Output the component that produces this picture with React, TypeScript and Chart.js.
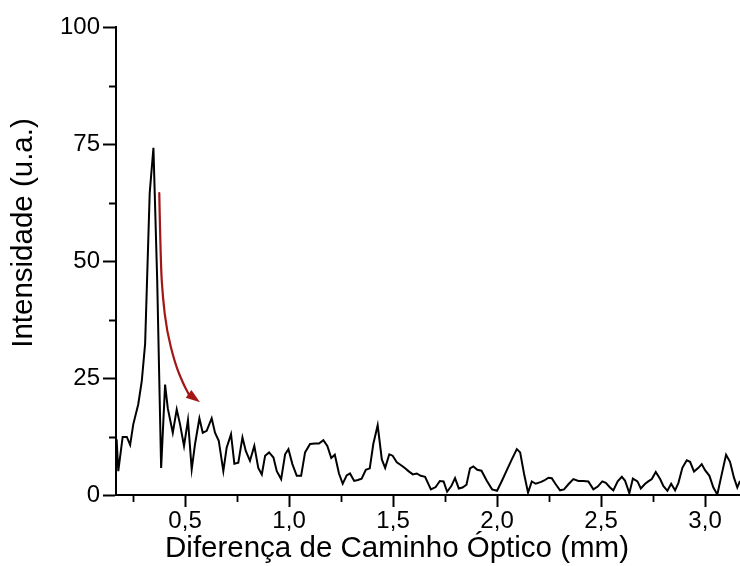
import React, { useEffect, useRef } from "react";
import { Chart, registerables } from "chart.js";

Chart.register(...registerables);

// Optical path difference (mm)
const OPD_MM = [
  0.171, 0.179, 0.200, 0.220, 0.236, 0.251, 0.275, 0.292, 0.308, 0.330,
  0.348, 0.366, 0.385, 0.404, 0.417, 0.441, 0.460, 0.476, 0.495, 0.514,
  0.532, 0.548, 0.569, 0.585, 0.604, 0.628, 0.644, 0.662, 0.684, 0.700,
  0.721, 0.737, 0.756, 0.776, 0.792, 0.812, 0.833, 0.852, 0.869, 0.885,
  0.904, 0.925, 0.941, 0.962, 0.981, 0.997, 1.016, 1.037, 1.058, 1.077,
  1.101, 1.125, 1.144, 1.165, 1.184, 1.203, 1.220, 1.240, 1.258, 1.277,
  1.293, 1.313, 1.331, 1.349, 1.369, 1.388, 1.405, 1.426, 1.446, 1.462,
  1.482, 1.498, 1.518, 1.537, 1.558, 1.574, 1.595, 1.614, 1.633, 1.654,
  1.682, 1.705, 1.725, 1.743, 1.760, 1.780, 1.798, 1.816, 1.834, 1.853,
  1.870, 1.886, 1.905, 1.925, 1.950, 1.976, 2.000, 2.023, 2.047, 2.071,
  2.095, 2.111, 2.130, 2.149, 2.167, 2.186, 2.212, 2.227, 2.247, 2.263,
  2.282, 2.303, 2.322, 2.343, 2.367, 2.391, 2.415, 2.439, 2.463, 2.484,
  2.506, 2.523, 2.543, 2.559, 2.580, 2.600, 2.615, 2.636, 2.653, 2.675,
  2.691, 2.712, 2.727, 2.744, 2.763, 2.784, 2.800, 2.819, 2.837, 2.856,
  2.872, 2.891, 2.912, 2.928, 2.947, 2.968, 2.984, 3.000, 3.021, 3.040,
  3.059, 3.080, 3.101, 3.120, 3.139, 3.155, 3.168,
];

// Intensity (arbitrary units)
const INTENSITY = [
  11.9, 5.1, 12.4, 12.4, 10.7, 15.1, 19.4, 24.4, 32.3, 64.5,
  74.2, 46.0, 5.8, 23.6, 18.5, 13.3, 18.3, 15.1, 10.5, 16.0,
  5.5, 10.9, 16.4, 13.3, 13.7, 16.4, 13.3, 11.6, 5.1, 10.1,
  13.0, 6.7, 6.9, 12.3, 9.4, 7.3, 10.5, 5.8, 4.4, 8.4,
  9.1, 8.0, 5.1, 3.4, 8.7, 9.8, 6.6, 4.1, 4.1, 9.1,
  10.9, 11.0, 11.0, 11.7, 10.5, 7.9, 8.6, 4.6, 2.4, 4.2,
  4.6, 3.0, 3.2, 3.5, 5.4, 5.7, 10.9, 14.9, 7.6, 5.8,
  8.7, 8.4, 7.0, 6.4, 5.7, 5.1, 4.4, 4.6, 4.1, 3.9,
  1.2, 1.7, 3.0, 2.9, 0.7, 1.9, 3.6, 1.4, 1.6, 2.2,
  5.7, 6.1, 5.4, 5.2, 3.1, 1.2, 0.9, 3.0, 5.3, 7.6,
  9.8, 9.1, 4.5, 0.5, 2.9, 2.4, 2.8, 3.1, 3.7, 3.6,
  2.3, 1.0, 1.2, 2.3, 3.4, 3.0, 3.0, 2.9, 1.2, 1.8,
  2.9, 2.6, 1.6, 1.0, 2.9, 3.9, 3.1, 0.4, 3.5, 2.9,
  1.4, 2.4, 2.9, 3.4, 4.9, 3.4, 1.9, 0.9, 2.4, 1.0,
  2.6, 5.8, 7.4, 7.1, 5.0, 5.8, 6.6, 5.3, 4.1, 1.6,
  0.1, 4.4, 8.6, 7.1, 3.7, 1.6, 3.0,
];

const X_MIN = 0.168;
const X_MAX = 3.168;
const Y_MIN = 0;
const Y_MAX = 100;

const X_TICKS = [0.5, 1.0, 1.5, 2.0, 2.5, 3.0];
const X_MINOR_TICKS = [0.25, 0.75, 1.25, 1.75, 2.25, 2.75];
const Y_TICKS = [0, 25, 50, 75, 100];
const Y_MINOR_TICKS = [12.5, 37.5, 62.5, 87.5];

const X_TITLE = "Diferença de Caminho Óptico (mm)";
const Y_TITLE = "Intensidade (u.a.)";

// Curved arrow annotation (data coordinates): shaft path, then tip
const ARROW_X = [0.376, 0.383, 0.393, 0.412, 0.452, 0.492, 0.517];
const ARROW_Y = [64.5, 49.4, 42.2, 35.1, 28.0, 23.7, 21.6];
const ARROW_TIP_X = 0.572;
const ARROW_TIP_Y = 19.8;

const FONT = '"Liberation Sans", Arial, sans-serif';
const ARROW_COLOR = "#a31616";

const extrasPlugin = {
  id: "extras",
  afterDatasetsDraw(chart: any) {
    const { ctx, scales } = chart;
    const xs = scales.x;
    const ys = scales.y;
    const pts = ARROW_X.map((x, i) => [xs.getPixelForValue(x), ys.getPixelForValue(ARROW_Y[i])]);
    const tip = [xs.getPixelForValue(ARROW_TIP_X), ys.getPixelForValue(ARROW_TIP_Y)];
    ctx.save();
    ctx.strokeStyle = ARROW_COLOR;
    ctx.fillStyle = ARROW_COLOR;
    ctx.lineWidth = 2.2;
    ctx.lineCap = "round";
    ctx.beginPath();
    ctx.moveTo(pts[0][0], pts[0][1]);
    for (let i = 1; i < pts.length - 1; i++) {
      const mx = (pts[i][0] + pts[i + 1][0]) / 2;
      const my = (pts[i][1] + pts[i + 1][1]) / 2;
      ctx.quadraticCurveTo(pts[i][0], pts[i][1], mx, my);
    }
    const last = pts[pts.length - 1];
    ctx.lineTo(last[0], last[1]);
    ctx.stroke();
    // arrow head
    const dx = tip[0] - last[0];
    const dy = tip[1] - last[1];
    const len = Math.hypot(dx, dy) || 1;
    const nx = -dy / len;
    const ny = dx / len;
    const hw = 4.8;
    ctx.beginPath();
    ctx.moveTo(tip[0], tip[1]);
    ctx.lineTo(last[0] + nx * hw, last[1] + ny * hw);
    ctx.lineTo(last[0] - nx * hw, last[1] - ny * hw);
    ctx.closePath();
    ctx.fill();
    ctx.restore();
  },
  afterDraw(chart: any) {
    const { ctx, chartArea, scales } = chart;
    const xs = scales.x;
    const ys = scales.y;
    ctx.save();
    // minor tick marks
    ctx.strokeStyle = "#000";
    ctx.lineWidth = 1.8;
    ctx.beginPath();
    X_MINOR_TICKS.forEach((v) => {
      const px = Math.round(xs.getPixelForValue(v)) + 0.5;
      ctx.moveTo(px, chartArea.bottom);
      ctx.lineTo(px, chartArea.bottom + 7);
    });
    Y_MINOR_TICKS.forEach((v) => {
      const py = Math.round(ys.getPixelForValue(v)) + 0.5;
      ctx.moveTo(chartArea.left, py);
      ctx.lineTo(chartArea.left - 7, py);
    });
    ctx.stroke();
    // axis titles
    ctx.fillStyle = "#000";
    ctx.font = `29.5px ${FONT}`;
    ctx.textAlign = "center";
    ctx.textBaseline = "middle";
    ctx.fillText(X_TITLE, chartArea.left + 281, chartArea.bottom + 54);
    ctx.translate(24, chartArea.top + 206);
    ctx.rotate(-Math.PI / 2);
    ctx.fillText(Y_TITLE, 0, 0);
    ctx.restore();
  },
};

const fmtComma = (v: number) => v.toFixed(1).replace(".", ",");

export default function App() {
  const canvasRef = useRef<HTMLCanvasElement | null>(null);

  useEffect(() => {
    if (!canvasRef.current) return;
    const points = OPD_MM.map((x, i) => ({ x, y: INTENSITY[i] }));
    const chart = new Chart(canvasRef.current, {
      type: "line",
      data: {
        datasets: [
          {
            data: points,
            borderColor: "#000",
            borderWidth: 2,
            pointRadius: 0,
            tension: 0,
            fill: false,
          },
        ],
      },
      options: {
        animation: false,
        responsive: false,
        maintainAspectRatio: false,
        layout: { padding: { top: 27, left: 0, right: 0, bottom: 0 } },
        plugins: {
          legend: { display: false },
          tooltip: { enabled: false },
        },
        scales: {
          x: {
            type: "linear",
            min: X_MIN,
            max: X_MAX,
            afterBuildTicks: (scale: any) => {
              scale.ticks = X_TICKS.map((value) => ({ value }));
            },
            afterFit: (scale: any) => {
              scale.height = 71;
            },
            border: { display: true, color: "#000", width: 2 },
            grid: {
              drawOnChartArea: false,
              drawTicks: true,
              tickLength: 12,
              color: "#000",
              tickWidth: 2,
            },
            ticks: {
              color: "#000",
              font: { family: FONT, size: 24 },
              padding: 0,
              maxRotation: 0,
              callback: (v: any) => fmtComma(Number(v)),
            },
          },
          y: {
            type: "linear",
            min: Y_MIN,
            max: Y_MAX,
            afterBuildTicks: (scale: any) => {
              scale.ticks = Y_TICKS.map((value) => ({ value }));
            },
            afterFit: (scale: any) => {
              scale.width = 116;
            },
            border: { display: true, color: "#000", width: 2 },
            grid: {
              drawOnChartArea: false,
              drawTicks: true,
              tickLength: 13,
              color: "#000",
              tickWidth: 2,
            },
            ticks: {
              color: "#000",
              font: { family: FONT, size: 24 },
              padding: 3,
              callback: (v: any) => String(v),
            },
          },
        },
      },
      plugins: [extrasPlugin],
    });
    return () => chart.destroy();
  }, []);

  return (
    <div style={{ position: "absolute", left: 0, top: 0, width: 740, height: 566, background: "#fff" }}>
      <canvas ref={canvasRef} width={740} height={566} style={{ display: "block" }} />
    </div>
  );
}
